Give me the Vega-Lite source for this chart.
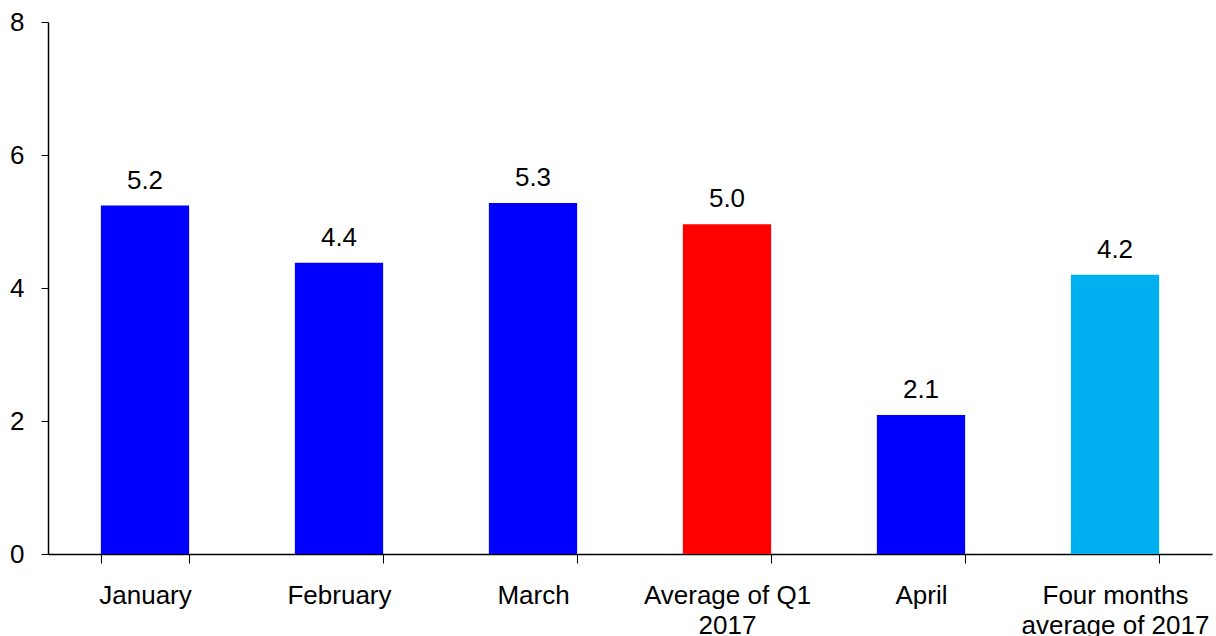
{
  "$schema": "https://vega.github.io/schema/vega-lite/v6.json",
  "width": 1164,
  "height": 532,
  "autosize": {"type": "none"},
  "padding": {"left": 48, "top": 22, "right": 4, "bottom": 82},
  "background": "white",
  "config": {
    "view": {"stroke": null},
    "font": "Liberation Sans",
    "axis": {"labelFont": "Liberation Sans", "labelColor": "black", "domainColor": "black", "tickColor": "black", "grid": false, "title": null}
  },
  "data": {
    "values": [
      {"category": "January", "value": 5.24, "label": "5.2", "group": "month"},
      {"category": "February", "value": 4.38, "label": "4.4", "group": "month"},
      {"category": "March", "value": 5.28, "label": "5.3", "group": "month"},
      {"category": "Average of Q1 2017", "value": 4.96, "label": "5.0", "group": "q1"},
      {"category": "April", "value": 2.09, "label": "2.1", "group": "month"},
      {"category": "Four months average of 2017", "value": 4.2, "label": "4.2", "group": "four"}
    ]
  },
  "encoding": {
    "x": {
      "field": "category",
      "type": "nominal",
      "sort": null,
      "scale": {"paddingInner": 0.545, "paddingOuter": 0.2725},
      "axis": {
        "labelAngle": 0,
        "labelFontSize": 26,
        "labelPadding": 19,
        "labelLimit": 0,
        "tickSize": 9,
        "tickBand": "extent",
        "domainWidth": 1.5,
        "labelLineHeight": 30,
        "labelExpr": "datum.label == 'Average of Q1 2017' ? ['Average of Q1', '2017'] : datum.label == 'Four months average of 2017' ? ['Four months', 'average of 2017'] : datum.label"
      }
    },
    "y": {
      "field": "value",
      "type": "quantitative",
      "scale": {"domain": [0, 8], "nice": false},
      "axis": {"values": [0, 2, 4, 6, 8], "labelFontSize": 26, "labelPadding": 17, "tickSize": 7, "domainWidth": 1.5}
    }
  },
  "layer": [
    {
      "mark": {"type": "bar"},
      "encoding": {
        "color": {
          "field": "group",
          "type": "nominal",
          "scale": {"domain": ["month", "q1", "four"], "range": ["#0000FF", "#FF0000", "#00B0F0"]},
          "legend": null
        }
      }
    },
    {
      "mark": {"type": "text", "fontSize": 26, "baseline": "alphabetic", "dy": -17, "color": "black"},
      "encoding": {"text": {"field": "label"}}
    }
  ]
}
